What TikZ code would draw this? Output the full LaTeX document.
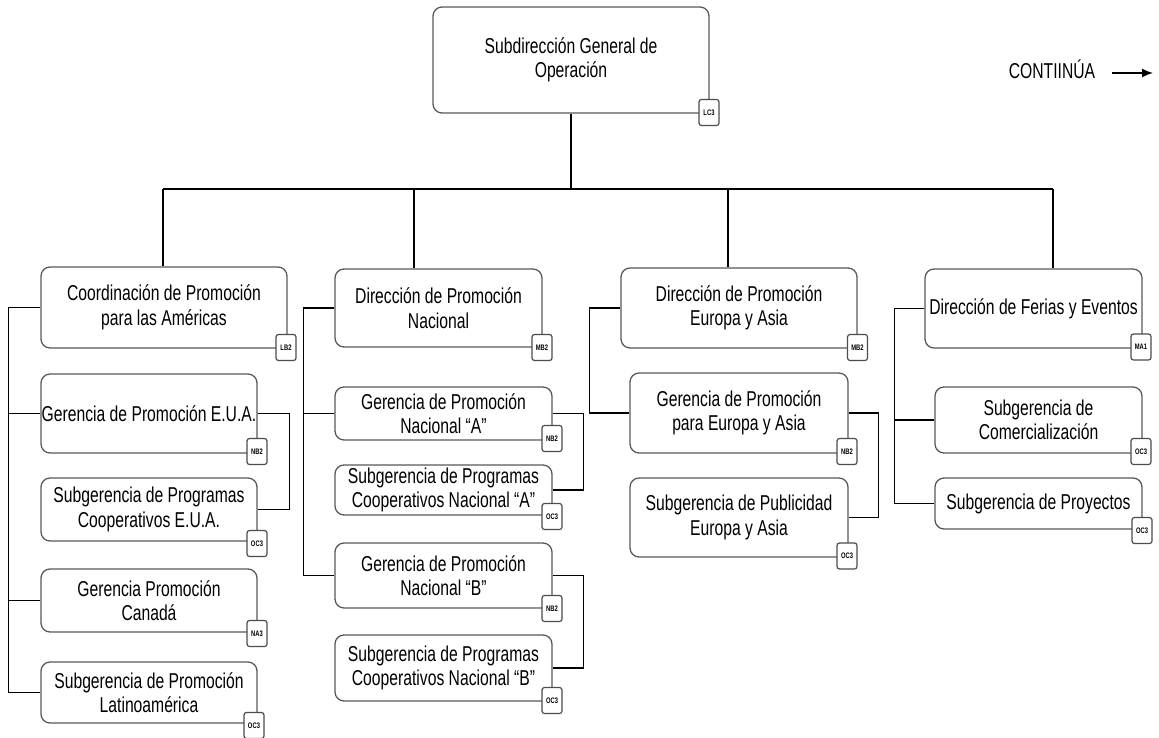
\documentclass[tikz,border=0pt]{standalone}
\usepackage{fontspec}
\setmainfont{Liberation Sans}[FakeStretch=0.73]
\usetikzlibrary{arrows.meta}
\tikzset{
  orgbox/.style={draw=black!65, line width=1.3pt, rounded corners=9pt, fill=white,
    align=center, inner sep=0pt, font=\fontsize{21.5}{24.5}\selectfont},
  badge/.style={draw=black!70, line width=1.2pt, rounded corners=2.5pt, fill=white,
    minimum width=20pt, minimum height=26pt, inner sep=0pt,
    font=\fontsize{8}{8}\selectfont\bfseries},
  link/.style={draw=black, line width=1.3pt},
}
\newcommand{\obox}[6]{% name, cx, cy, w, h, text
  \node[orgbox, minimum width=#4pt, minimum height=#5pt] (#1) at (#2,#3) {#6};}
\begin{document}
\begin{tikzpicture}[x=1pt,y=-1pt]
\useasboundingbox (0,0) rectangle (1159,738);

% top
\obox{T}{571}{60}{276}{106}{Subdirección General de\\Operación}

% column 1
\obox{A0}{164}{307.5}{246}{81}{Coordinación de Promoción\\para las Américas}
\obox{A1}{149}{413.5}{216}{79}{Gerencia de Promoción E.U.A.}
\obox{A2}{149}{509.5}{216}{63}{Subgerencia de Programas\\Cooperativos E.U.A.}
\obox{A3}{149}{600.5}{216}{63}{Gerencia Promoción\\Canadá}
\obox{A4}{149}{692.5}{216}{61}{Subgerencia de Promoción\\Latinoamérica}

% column 2
\obox{B0}{438.5}{308}{207}{78}{Dirección de Promoción\\Nacional}
\obox{B1}{443.5}{413.5}{217}{53}{Gerencia de Promoción\\Nacional “A”}
\obox{B2}{443.5}{490}{217}{50}{Subgerencia de Programas\\Cooperativos Nacional “A”}
\obox{B3}{443.5}{575.5}{217}{65}{Gerencia de Promoción\\Nacional “B”}
\obox{B4}{443.5}{668}{217}{66}{Subgerencia de Programas\\Cooperativos Nacional “B”}

% column 3
\obox{D0}{739}{308}{236}{80}{Dirección de Promoción\\Europa y Asia}
\obox{D1}{739}{413}{218}{80}{Gerencia de Promoción\\para Europa y Asia}
\obox{D2}{739}{517.5}{218}{79}{Subgerencia de Publicidad\\Europa y Asia}

% column 4
\obox{E0}{1033.5}{308.5}{217}{79}{Dirección de Ferias y Eventos}
\obox{E1}{1038.5}{420}{207}{66}{Subgerencia de\\Comercialización}
\obox{E2}{1038.5}{503.5}{207}{51}{Subgerencia de Proyectos}

% badges
\node[badge] (bT)  at (709,112.5) {LC3};
\node[badge] (bA0) at (286,347.5) {LB2};
\node[badge] (bA1) at (257,451.5) {NB2};
\node[badge] (bA2) at (257,543.5) {OC3};
\node[badge] (bA3) at (257,633.5) {NA3};
\node[badge] (bA4) at (254,725.5) {OC3};
\node[badge] (bB0) at (542,347.5) {MB2};
\node[badge] (bB1) at (552,438.5) {NB2};
\node[badge] (bB2) at (552,516.5) {OC3};
\node[badge] (bB3) at (552,608.5) {NB2};
\node[badge] (bB4) at (552,700.5) {OC3};
\node[badge] (bD0) at (857.5,347.5) {MB2};
\node[badge] (bD1) at (847,451.5) {NB2};
\node[badge] (bD2) at (847,556) {OC3};
\node[badge] (bE0) at (1141,347) {MA1};
\node[badge] (bE1) at (1141,451.5) {OC3};
\node[badge] (bE2) at (1142,530.5) {OC3};

% top-level connectors
\coordinate (hub) at (T.south |- 0,189);
\coordinate (cA) at (163,189);
\coordinate (cB) at (414,189);
\coordinate (cD) at (728,189);
\coordinate (cE) at (1053,189);
\draw[link] (T.south) -- (hub);
\draw[link] (cA) -- (cE);
\draw[link] (cA) -- (cA |- A0.north);
\draw[link] (cB) -- (cB |- B0.north);
\draw[link] (cD) -- (cD |- D0.north);
\draw[link] (cE) -- (cE |- E0.north);

% column 1 bus
\draw[link] (A0.west) -- ++(-32,0) |- (A4.west);
\draw[link] (A1.west) -- ++(-32,0);
\draw[link] (A3.west) -- ++(-32,0);
\draw[link] (A1.east) -- ++(32,0) |- (A2.east);

% column 2 bus
\draw[link] (B0.west) -- ++(-31,0) |- (B3.west);
\draw[link] (B1.west) -- ++(-31,0);
\draw[link] (B1.east) -- ++(31,0) |- (B2.east);
\draw[link] (B3.east) -- ++(31,0) |- (B4.east);

% column 3 bus
\draw[link] (D0.west) -- ++(-31,0) |- (D1.west);
\draw[link] (D1.east) -- ++(30,0) |- (D2.east);

% column 4 bus
\draw[link] (E0.west) -- ++(-30,0) |- (E2.west);
\draw[link] (E1.west) -- ++(-40,0);

% continúa
\node[font=\fontsize{21.5}{24.5}\selectfont, anchor=center, inner sep=0pt] (cont) at (1052,69) {CONTIINÚA};
\coordinate (arrEnd) at (1153,73);
\draw[line width=1.6pt, -{Latex[length=11pt,width=9pt]}] (1112,73) -- (arrEnd);
\end{tikzpicture}
\end{document}
